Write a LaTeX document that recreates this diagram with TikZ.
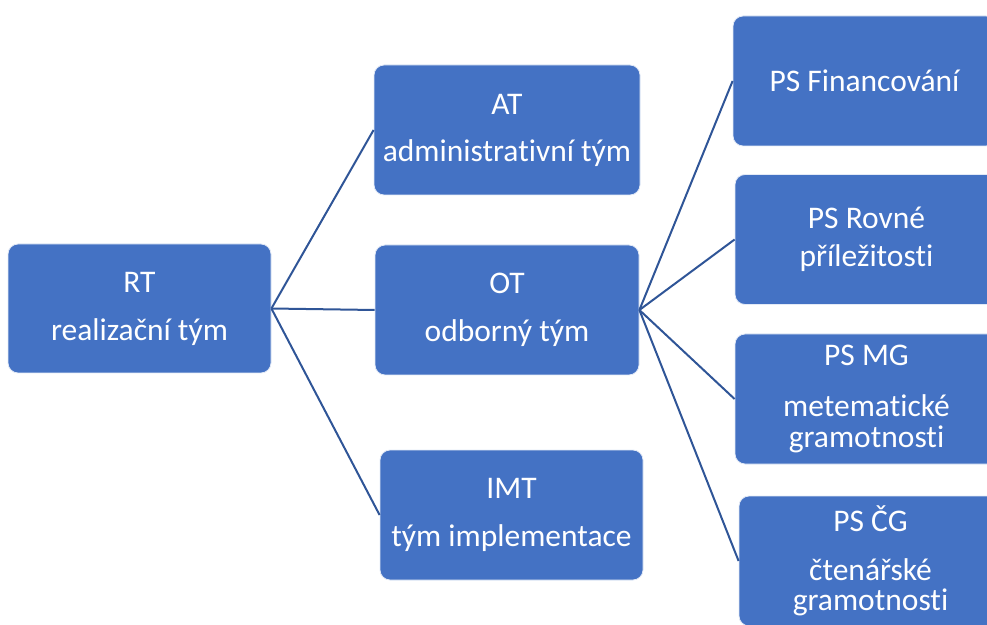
\documentclass[tikz,border=0pt]{standalone}
\usepackage{fontspec}
\setmainfont[RawFeature=-liga]{Carlito}
\definecolor{boxblue}{HTML}{4472C4}
\definecolor{lineblue}{HTML}{2F5597}
\begin{document}
\begin{tikzpicture}[x=1pt,y=1pt,
  box/.style={draw=white!85!boxblue, line width=0.8pt, fill=boxblue, rounded corners=10pt,
    minimum width=263pt, minimum height=130pt, inner sep=0pt, align=center, text=white,
    font=\fontsize{31.5}{38.5}\selectfont},
  conn/.style={draw=lineblue, line width=2pt}]
\useasboundingbox (0,0) rectangle (987,624);
\clip (0,0) rectangle (987,624);
\node[box, minimum height=129pt] (rt) at (139.5,315.5) {RT\\[9.5pt]realizační tým};
\node[box, minimum width=266pt] (at) at (507,494) {AT\\[8.5pt]administrativní tým};
\node[box, minimum width=264pt] (ot) at (507,314) {OT\\[9.5pt]odborný tým};
\node[box] (imt) at (511.5,109) {IMT\\[9.5pt]tým implementace};
\node[box] (psf) at (864.5,543) {PS Financování};
\node[box] (psr) at (866.5,384.5) {PS Rovné\\příležitosti};
\node[box] (psm) at (866.5,225) {PS MG\\[12.5pt]metematické\\[-7.5pt]gramotnosti};
\node[box] (psc) at (870.5,63) {PS ČG\\[10.5pt]čtenářské\\[-8.5pt]gramotnosti};
\draw[conn] (rt.east) -- (at.west);
\draw[conn] (rt.east) -- (ot.west);
\draw[conn] (rt.east) -- (imt.west);
\draw[conn] (ot.east) -- (psf.west);
\draw[conn] (ot.east) -- (psr.west);
\draw[conn] (ot.east) -- (psm.west);
\draw[conn] (ot.east) -- (psc.west);
\end{tikzpicture}
\end{document}
